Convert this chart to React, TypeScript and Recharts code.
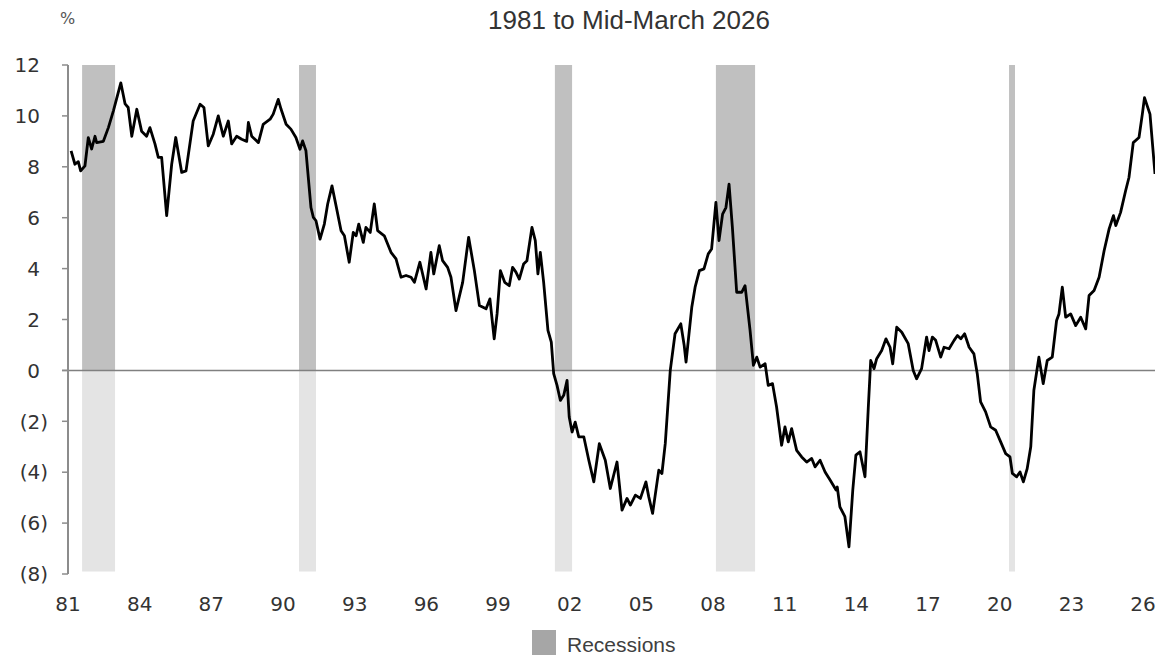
import React from 'react';
import { LineChart, Line, XAxis, YAxis, ReferenceArea, ReferenceLine } from 'recharts';

// Time (decimal years) and spread values (%)
const years = [
  1981.13, 1981.29, 1981.43, 1981.53, 1981.71, 1981.85, 1981.99, 1982.13, 1982.2, 1982.48,
  1982.69, 1982.9, 1983.21, 1983.39, 1983.52, 1983.67, 1983.88, 1984.08, 1984.29, 1984.43,
  1984.64, 1984.78, 1984.92, 1985.13, 1985.34, 1985.51, 1985.76, 1985.94, 1986.24, 1986.53,
  1986.69, 1986.87, 1987.08, 1987.29, 1987.5, 1987.71, 1987.85, 1988.06, 1988.27, 1988.48,
  1988.55, 1988.69, 1988.97, 1989.17, 1989.46, 1989.59, 1989.8,
  1989.92, 1990.13, 1990.33, 1990.54, 1990.71, 1990.82, 1990.96, 1991.17, 1991.27, 1991.38,
  1991.55, 1991.73, 1991.87, 1992.05, 1992.22, 1992.43, 1992.57, 1992.77, 1992.94, 1993.06,
  1993.17, 1993.36, 1993.47, 1993.65, 1993.82, 1993.96, 1994.24, 1994.52, 1994.73, 1994.94,
  1995.15, 1995.36, 1995.5, 1995.73, 1995.99, 1996.19, 1996.31, 1996.54, 1996.68, 1996.89,
  1997.03, 1997.24, 1997.52, 1997.77, 1998.01, 1998.22, 1998.5, 1998.66, 1998.84,
  1998.96, 1999.1, 1999.28, 1999.47, 1999.61, 1999.75, 1999.89, 2000.07, 2000.21, 2000.42,
  2000.56, 2000.67, 2000.77, 2000.91, 2001.09, 2001.23, 2001.33, 2001.47, 2001.61, 2001.75,
  2001.89, 2001.98, 2002.1, 2002.23, 2002.38, 2002.59, 2002.8, 2003.01, 2003.24, 2003.49,
  2003.7, 2003.98, 2004.19, 2004.4, 2004.54, 2004.75, 2004.96, 2005.19, 2005.31, 2005.47,
  2005.73, 2005.86, 2006.0, 2006.21, 2006.41, 2006.65, 2006.79, 2006.87, 2007.11, 2007.25,
  2007.43, 2007.62, 2007.8, 2007.94, 2008.12, 2008.25, 2008.4, 2008.54, 2008.67, 2008.81,
  2008.99, 2009.2, 2009.34, 2009.55, 2009.69, 2009.83, 2009.97, 2010.18,
  2010.31, 2010.49, 2010.66, 2010.87, 2011.01, 2011.15, 2011.29, 2011.5, 2011.71, 2011.92,
  2012.13, 2012.27, 2012.48, 2012.69, 2012.9, 2013.15, 2013.2, 2013.31, 2013.52, 2013.69,
  2013.85, 2013.98, 2014.15, 2014.36, 2014.5, 2014.6, 2014.74, 2014.85, 2015.06, 2015.24,
  2015.41, 2015.52, 2015.69, 2015.9, 2016.17, 2016.38, 2016.52, 2016.73, 2016.94,
  2017.04, 2017.18, 2017.32, 2017.53, 2017.67, 2017.88, 2018.09, 2018.23, 2018.37, 2018.53,
  2018.72, 2018.92, 2019.06, 2019.2, 2019.41, 2019.62, 2019.83, 2020.04, 2020.25, 2020.43,
  2020.53, 2020.71, 2020.85, 2020.99, 2021.15, 2021.3, 2021.43, 2021.64, 2021.82, 2021.99,
  2022.2, 2022.38, 2022.48, 2022.62, 2022.76, 2022.97, 2023.18, 2023.39, 2023.6, 2023.74,
  2023.95, 2024.16, 2024.37, 2024.58, 2024.76, 2024.86, 2025.06, 2025.27, 2025.41, 2025.59,
  2025.83, 2025.97, 2026.06, 2026.29, 2026.5,
];

const spread = [
  8.63, 8.1, 8.2, 7.84, 8.04, 9.15, 8.7, 9.2, 8.95, 9.0,
  9.54, 10.2, 11.3, 10.47, 10.33, 9.2, 10.26, 9.4, 9.2, 9.54,
  8.9, 8.37, 8.37, 6.08, 8.1, 9.15, 7.78, 7.84, 9.8, 10.46,
  10.33, 8.82, 9.28, 10.0, 9.2, 9.8, 8.9, 9.2, 9.08, 9.0,
  9.74, 9.2, 8.95, 9.67, 9.87, 10.07, 10.65,
  10.26, 9.67, 9.48, 9.15, 8.69, 9.02, 8.63, 6.4, 6.01, 5.88,
  5.16, 5.75, 6.54, 7.25, 6.47, 5.49, 5.29, 4.25, 5.42, 5.29,
  5.75, 5.03, 5.62, 5.42, 6.54, 5.49, 5.29, 4.64, 4.38, 3.66,
  3.73, 3.66, 3.46, 4.25, 3.2, 4.64, 3.79, 4.9, 4.31, 4.05,
  3.66, 2.35, 3.46, 5.23, 3.92, 2.55, 2.42, 2.81, 1.24,
  2.22, 3.92, 3.46, 3.33, 4.05, 3.86, 3.59, 4.18, 4.31, 5.62,
  5.1, 3.79, 4.64, 3.46, 1.57, 1.11, -0.13, -0.59, -1.18, -0.98,
  -0.39, -1.83, -2.42, -2.03, -2.61, -2.61, -3.53, -4.38, -2.88, -3.53,
  -4.64, -3.6, -5.49, -5.03, -5.29, -4.9, -5.03, -4.38, -4.97, -5.62,
  -3.92, -4.05, -2.88, 0.0, 1.44, 1.83, 1.0, 0.33, 2.48, 3.27,
  3.92, 3.99, 4.58, 4.77, 6.6, 5.1, 6.14, 6.4, 7.32, 5.62,
  3.07, 3.07, 3.33, 1.57, 0.2, 0.52, 0.13, 0.26,
  -0.59, -0.52, -1.44, -2.94, -2.22, -2.81, -2.29, -3.14, -3.4, -3.6,
  -3.46, -3.79, -3.53, -3.99, -4.31, -4.7, -4.58, -5.36, -5.75, -6.93,
  -4.7, -3.33, -3.2, -4.18, -1.44, 0.39, 0.07, 0.46, 0.78, 1.24,
  0.91, 0.26, 1.7, 1.5, 1.05, 0.0, -0.33, 0.07, 1.31,
  0.78, 1.31, 1.18, 0.52, 0.91, 0.85, 1.18, 1.37, 1.24, 1.44,
  0.91, 0.65, -0.13, -1.24, -1.63, -2.22, -2.35, -2.81, -3.27, -3.4,
  -4.05, -4.18, -3.99, -4.38, -3.86, -3.0, -0.78, 0.52, -0.52, 0.39,
  0.52, 1.96, 2.22, 3.27, 2.09, 2.22, 1.76, 2.09, 1.63, 2.94,
  3.14, 3.66, 4.7, 5.56, 6.08, 5.69, 6.21, 7.06, 7.58, 8.95,
  9.15, 10.07, 10.72, 10.07, 7.72,
];

const recessionStarts = [1981.59, 1990.67, 2001.38, 2008.12, 2020.39];
const recessionEnds = [1982.97, 1991.38, 2002.1, 2009.76, 2020.64];

const xTickYears = [1981, 1984, 1987, 1990, 1993, 1996, 1999, 2002, 2005, 2008, 2011, 2014, 2017, 2020, 2023, 2026];
const yTickValues = [-8, -6, -4, -2, 0, 2, 4, 6, 8, 10, 12];

const data = years.map((t, i) => ({ t, v: spread[i] }));

const fmtYear = (y: number) => String(y % 100).padStart(2, '0');

const YTick = (props: any) => {
  const { x, y, payload } = props;
  const v = payload.value as number;
  const label = v < 0 ? `(${Math.abs(v)})` : String(v);
  const xEnd = v < 0 ? x : x - 8;
  return (
    <text x={xEnd} y={y} dy="0.36em" textAnchor="end" fill="#333" fontSize={20} fontFamily="DejaVu Sans">
      {label}
    </text>
  );
};

export default function App() {
  return (
    <div style={{ position: 'relative', width: 1167, height: 655, background: '#fff', overflow: 'hidden' }}>
      <style>{`body{margin:0}`}</style>
      <div
        style={{
          position: 'absolute', left: 0, width: 1258, top: 5, textAlign: 'center',
          fontFamily: '"Liberation Sans", Arial, sans-serif', fontSize: 26, color: '#333', lineHeight: '30px',
        }}
      >
        1981 to Mid-March 2026
      </div>
      <div
        style={{
          position: 'absolute', left: 60, top: 9, fontFamily: '"DejaVu Sans", sans-serif', fontSize: 16, color: '#555',
        }}
      >
        %
      </div>
      <LineChart width={1167} height={655} data={data} margin={{ top: 65, right: 12, bottom: 51, left: 0 }}>
        <XAxis
          type="number"
          dataKey="t"
          domain={[1981, 2026.5]}
          ticks={xTickYears}
          tickFormatter={fmtYear}
          interval={0}
          axisLine={false}
          tickLine={false}
          tickMargin={17}
          height={30}
          allowDataOverflow
          tick={{ fill: '#333', fontSize: 20, fontFamily: 'DejaVu Sans' }}
        />
        <YAxis
          type="number"
          domain={[-8, 12]}
          ticks={yTickValues}
          interval={0}
          width={68}
          axisLine={{ stroke: '#8c8c8c', strokeWidth: 2 }}
          tickLine={{ stroke: '#8c8c8c', strokeWidth: 1.5 }}
          tickSize={6}
          tickMargin={14}
          tick={<YTick />}
        />
        {recessionStarts.map((s, i) => (
          <ReferenceArea key={`up${i}`} x1={s} x2={recessionEnds[i]} y1={0} y2={12} fill="#c0c0c0" fillOpacity={1} stroke="none" />
        ))}
        {recessionStarts.map((s, i) => (
          <ReferenceArea key={`dn${i}`} x1={s} x2={recessionEnds[i]} y1={-7.9} y2={0} fill="#e4e4e4" fillOpacity={1} stroke="none" />
        ))}
        <ReferenceLine
          segment={[{ x: 1980.75, y: 0 }, { x: 2026.5, y: 0 }]}
          ifOverflow="visible"
          stroke="#808080"
          strokeWidth={1.5}
        />
        <Line type="linear" dataKey="v" stroke="#000" strokeWidth={2.8} strokeLinejoin="round" dot={false} isAnimationActive={false} />
      </LineChart>
      <div style={{ position: 'absolute', left: 532, top: 630, width: 24, height: 25, background: '#a6a6a6' }} />
      <div
        style={{
          position: 'absolute', left: 567, top: 633, fontFamily: '"Liberation Sans", Arial, sans-serif', fontSize: 21,
          color: '#404040', lineHeight: '24px',
        }}
      >
        Recessions
      </div>
    </div>
  );
}
